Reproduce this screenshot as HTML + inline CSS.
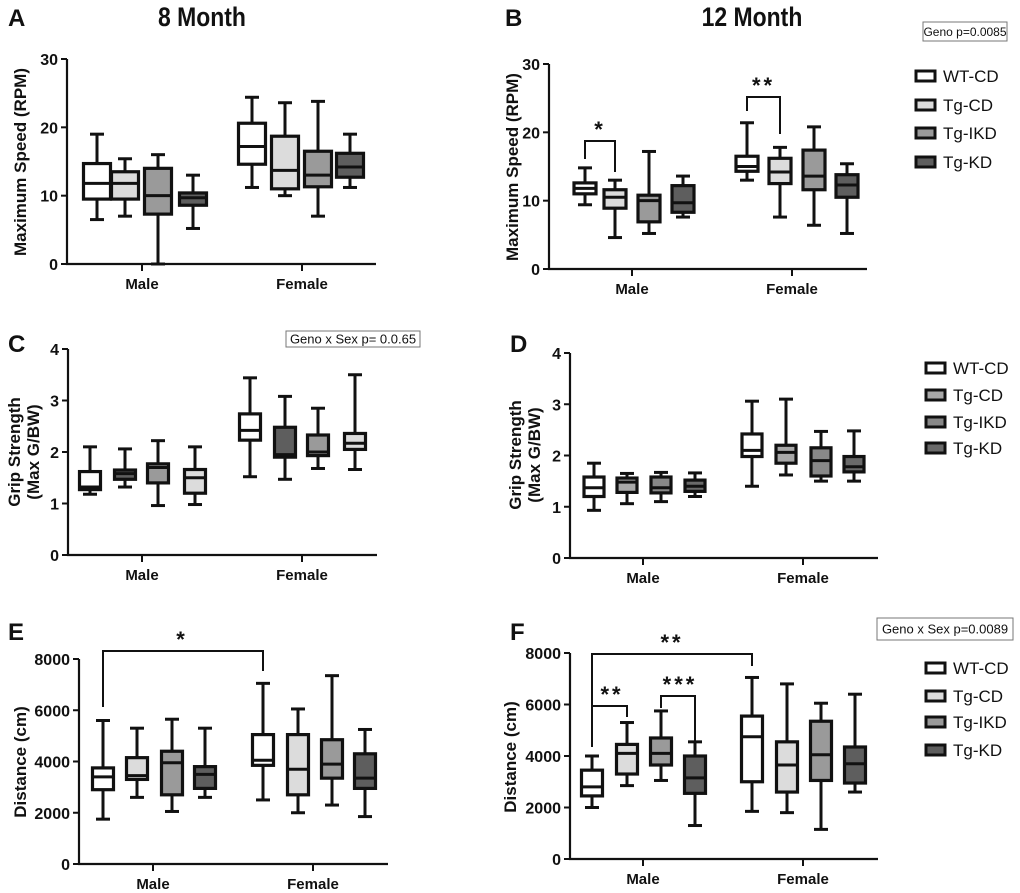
<!DOCTYPE html>
<html><head><meta charset="utf-8"><style>
body{margin:0;background:#fff;}
svg{display:block;font-family:"Liberation Sans",Arial,sans-serif;}
</style></head><body>
<svg id="fig" width="1020" height="893" viewBox="0 0 1020 893" xmlns="http://www.w3.org/2000/svg"></svg>
<script>
// ---- data (min, q1, median, q3, max) ----
const groups = ["WT-CD","Tg-CD","Tg-IKD","Tg-KD"];
const sexes = ["Male","Female"];
const aMale = [[6.5,9.5,11.8,14.7,19],[7,9.5,11.8,13.5,15.4],[0,7.3,10,14,16],[5.2,8.6,9.7,10.4,13]];
const aFemale = [[11.2,14.6,17.2,20.6,24.4],[10,11,13.7,18.7,23.6],[7,11.3,13,16.5,23.8],[11.2,12.7,14.2,16.2,19]];
const bMale = [[9.4,11,11.8,12.6,14.8],[4.6,8.9,10.5,11.6,13],[5.2,6.9,10,10.8,17.2],[7.6,8.3,9.7,12.2,13.6]];
const bFemale = [[13,14.3,15,16.5,21.4],[7.6,12.5,14.2,16.2,17.8],[6.4,11.6,13.6,17.4,20.8],[5.2,10.5,12.3,13.8,15.4]];
const cMale = [[1.18,1.27,1.32,1.62,2.1],[1.32,1.47,1.58,1.65,2.06],[0.96,1.4,1.7,1.77,2.22],[0.98,1.2,1.5,1.66,2.1]];
const cFemale = [[1.52,2.23,2.42,2.74,3.44],[1.47,1.9,1.95,2.48,3.08],[1.68,1.93,2.0,2.33,2.85],[1.66,2.05,2.17,2.36,3.5]];
const dMale = [[0.93,1.2,1.37,1.58,1.85],[1.06,1.28,1.48,1.56,1.65],[1.1,1.27,1.37,1.58,1.67],[1.2,1.3,1.4,1.52,1.66]];
const dFemale = [[1.4,1.98,2.1,2.42,3.06],[1.62,1.85,2.06,2.2,3.1],[1.5,1.6,1.9,2.15,2.47],[1.5,1.68,1.78,1.98,2.48]];
const eMale = [[1750,2900,3400,3750,5600],[2600,3300,3450,4150,5300],[2050,2700,3950,4400,5650],[2600,2950,3500,3800,5300]];
const eFemale = [[2500,3850,4050,5050,7050],[2000,2700,3700,5050,6050],[2300,3350,3900,4850,7350],[1850,2950,3350,4300,5250]];
const fMale = [[2000,2450,2800,3450,4000],[2850,3300,4100,4450,5300],[3050,3650,4100,4700,5750],[1300,2550,3150,4000,4550]];
const fFemale = [[1850,3000,4750,5550,7050],[1800,2600,3650,4550,6800],[1150,3050,4050,5350,6050],[2600,2950,3700,4350,6400]];
const ticksSpeed = [0,10,20,30];
const ticksGrip = [0,1,2,3,4];
const ticksDist = [0,2000,4000,6000,8000];

const NS="http://www.w3.org/2000/svg";
const svg=document.getElementById('fig');
function mk(tag,attrs,parent){const e=document.createElementNS(NS,tag);for(const k in attrs)e.setAttribute(k,attrs[k]);(parent||svg).appendChild(e);return e;}
function txt(s,attrs,parent){const e=mk('text',attrs,parent);e.textContent=s;return e;}

function panel(p){
  const g=mk('g',{});
  
  
  const ymax=p.ticks[p.ticks.length-1];
  const y=v=>p.y0+(p.yTop-p.y0)*v/ymax;
  const xa=(si,gi)=>p.centers[si][gi];
  const ax=mk('path',{d:`M${p.x0} ${p.yTop} V${p.y0} H${p.x1}`,stroke:'#111','stroke-width':2.2,fill:'none'},g);
  
  
  p.ticks.forEach(t=>{
    mk('line',{x1:p.x0-6,x2:p.x0,y1:y(t),y2:y(t),stroke:'#111','stroke-width':2},g);
    const l=txt(String(t),{x:p.x0-9,y:y(t)+6,'text-anchor':'end','font-size':16,'font-weight':'bold',fill:'#111'},g);
    
    
  });
  sexes.forEach((s,si)=>{
    const tx=p.sexX[si];
    mk('line',{x1:tx,x2:tx,y1:p.y0,y2:p.y0+7,stroke:'#111','stroke-width':2},g);
    const l=txt(s,{x:tx,y:p.y0+25,'text-anchor':'middle','font-size':15,'font-weight':'bold',fill:'#111'},g);
    
    
  });
  [p.male,p.female].forEach((arr,si)=>{
    arr.forEach((d,gi)=>{
      const cx=xa(si,gi),w=p.bw,cap=p.cap;
      const bg=mk('g',{},g);
      
      
      const st={stroke:'#111','stroke-width':3,fill:'none'};
      mk('line',Object.assign({x1:cx,x2:cx,y1:y(d[0]),y2:y(d[1])},st),bg);
      mk('line',Object.assign({x1:cx,x2:cx,y1:y(d[3]),y2:y(d[4])},st),bg);
      mk('line',Object.assign({x1:cx-cap/2,x2:cx+cap/2,y1:y(d[0]),y2:y(d[0])},st),bg);
      mk('line',Object.assign({x1:cx-cap/2,x2:cx+cap/2,y1:y(d[4]),y2:y(d[4])},st),bg);
      mk('rect',{x:cx-w/2,y:y(d[3]),width:w,height:y(d[1])-y(d[3]),fill:p.fills[si][gi],stroke:'#111','stroke-width':3.2},bg);
      mk('line',Object.assign({x1:cx-w/2,x2:cx+w/2,y1:y(d[2]),y2:y(d[2])},st),bg);
    });
  });
  (p.sig||[]).forEach(b=>{
    const x1=xa(b.a[0],b.a[1]),x2=xa(b.b[0],b.b[1]);
    const bk=mk('path',{d:`M${x1} ${b.l} V${b.top} H${x2} V${b.r}`,stroke:'#111','stroke-width':2,fill:'none'},g);
    
    
    const s=txt(b.s,{x:b.sx!==undefined?b.sx:(x1+x2)/2,y:b.top-4,'text-anchor':'middle','font-size':22,'font-weight':'bold','letter-spacing':3,fill:'#111'},g);
    
    
  });
  const lines=p.ytitle;
  lines.forEach((t,i)=>{
    const xx=p.ytx+i*19;
    const l=txt(t,{x:xx,y:p.yty,'text-anchor':'middle','font-size':17,'font-weight':'bold',fill:'#111',transform:`rotate(-90 ${xx} ${p.yty})`},g);
    
    
  });
}
const F1=['#fff','#dcdcdc','#9a9a9a','#5e5e5e'];
panel({name:'panel-a',x0:67,x1:376,y0:264,yTop:59,ticks:ticksSpeed,male:aMale,female:aFemale,
  centers:[[97,125,158,193],[252,285,318,350]],sexX:[142,302],bw:27,cap:14,fills:[F1,F1],
  ytitle:['Maximum Speed (RPM)'],ytx:26,yty:162});
panel({name:'panel-b',x0:549,x1:867,y0:269,yTop:64,ticks:ticksSpeed,male:bMale,female:bFemale,
  centers:[[585,615,649,683],[747,780,814,847]],sexX:[632,792],bw:22,cap:14,fills:[F1,F1],
  ytitle:['Maximum Speed (RPM)'],ytx:518,yty:167,
  sig:[{a:[0,0],b:[0,1],top:141,l:159,r:172,s:'*'},{a:[1,0],b:[1,1],top:97,l:111,r:134,s:'**'}]});
const FC=['#fff','#5e5e5e','#9a9a9a','#dcdcdc'];
panel({name:'panel-c',x0:68,x1:377,y0:555,yTop:349,ticks:ticksGrip,male:cMale,female:cFemale,
  centers:[[90,125,158,195],[250,285,318,355]],sexX:[142,302],bw:21,cap:14,fills:[FC,FC],
  ytitle:['Grip  Strength','(Max G/BW)'],ytx:20,yty:452});
const FD=['#fff','#a8a8a8','#888','#6a6a6a'];
panel({name:'panel-d',x0:570,x1:878,y0:558,yTop:353,ticks:ticksGrip,male:dMale,female:dFemale,
  centers:[[594,627,661,695],[752,786,821,854]],sexX:[643,803],bw:20,cap:14,fills:[FD,FD],
  ytitle:['Grip  Strength','(Max G/BW)'],ytx:521,yty:455});
panel({name:'panel-e',x0:79,x1:388,y0:864,yTop:659,ticks:ticksDist,male:eMale,female:eFemale,
  centers:[[103,137,172,205],[263,298,332,365]],sexX:[153,313],bw:21,cap:14,fills:[F1,F1],
  ytitle:['Distance (cm)'],ytx:26,yty:762,
  sig:[{a:[0,0],b:[1,0],top:651,l:707,r:671,s:'*',sx:182}]});
panel({name:'panel-f',x0:570,x1:878,y0:859,yTop:653,ticks:ticksDist,male:fMale,female:fFemale,
  centers:[[592,627,661,695],[752,787,821,855]],sexX:[643,803],bw:21,cap:14,fills:[F1,F1],
  ytitle:['Distance (cm)'],ytx:516,yty:757,
  sig:[{a:[0,0],b:[1,0],top:654,l:747,r:666,s:'**',sx:672},
       {a:[0,0],b:[0,1],top:706,l:706,r:717,s:'**',sx:612},
       {a:[0,2],b:[0,3],top:696,l:708,r:742,s:'***',sx:680}]});

[['A',8,26],['B',505,26],['C',8,352],['D',510,352],['E',8,640],['F',510,640]].forEach(a=>{
  const t=txt(a[0],{x:a[1],y:a[2],'font-size':24,'font-weight':'bold',fill:'#111'});
  
  
});
[['8 Month',202],['12 Month',752]].forEach(a=>{
  const t=txt(a[0],{x:a[1],y:26,'text-anchor':'middle','font-size':27,'font-weight':'bold',fill:'#111',transform:`translate(${a[1]} 0) scale(0.85 1) translate(${-a[1]} 0)`});
  
  
});
function statBox(s,x,y,w,h,fs,name){
  const g=mk('g',{});
  
  
  mk('rect',{x:x,y:y,width:w,height:h,fill:'#fff',stroke:'#777','stroke-width':1},g);
  txt(s,{x:x+w/2,y:y+h/2+fs*0.36,'text-anchor':'middle','font-size':fs,fill:'#111'},g);
}
statBox('Geno p=0.0085',923,22,84,19,12,'stat-box-b');
statBox('Geno x Sex p= 0.0.65',286,331,134,16,13,'stat-box-c');
statBox('Geno x Sex  p=0.0089',877,618,136,22,13,'stat-box-f');
function legend(x,ys,fills,name){
  const g=mk('g',{});
  
  
  groups.forEach((gn,i)=>{
    const e=mk('g',{},g);
    
    
    mk('rect',{x:x-9,y:ys[i]-5,width:19,height:10,fill:fills[i],stroke:'#111','stroke-width':3},e);
    txt(gn,{x:x+18,y:ys[i]+6,'font-size':17,fill:'#111'},e);
  });
}
legend(925,[76,105,133,162],F1,'legend-b');
legend(935,[368,395,422,448],FD,'legend-d');
legend(935,[668,696,722,750],F1,'legend-f');
</script>
</body></html>
